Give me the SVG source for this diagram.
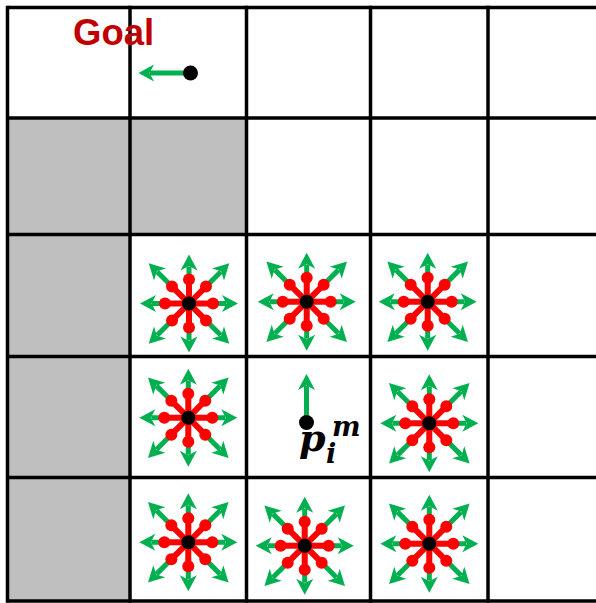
<svg xmlns="http://www.w3.org/2000/svg" xmlns:xlink="http://www.w3.org/1999/xlink" width="596" height="603" viewBox="0 0 596 603">
<style>
.grid{stroke:#000;stroke-width:3.5;fill:none}
.gray{fill:#bfbfbf}
.gsh{stroke:#00b050;stroke-width:5;fill:none}
.ghd{fill:#00b050}
.rsp{stroke:#ff0000;stroke-width:6}
.rdot{fill:#ff0000}
.bdot{fill:#000}
.goal{font-family:"Liberation Sans",Arial,sans-serif;font-weight:bold;font-size:36.5px;fill:#c00000}
.math{font-family:"DejaVu Serif","Liberation Serif",serif;font-weight:bold;font-style:italic;fill:#000}
</style>
<defs>
<g id="arrO">
<line class="gsh" x1="0" y1="0" x2="37" y2="0"/>
<path class="ghd" d="M49,0 L33,-8.5 L37.5,0 L33,8.5 Z"/>
</g>
<g id="arrD">
<line class="gsh" x1="0" y1="0" x2="45" y2="0"/>
<path class="ghd" d="M57,0 L41,-8.5 L45.5,0 L41,8.5 Z"/>
</g>
<g id="spoke">
<line class="rsp" x1="0" y1="0" x2="24" y2="0"/>
<circle class="rdot" cx="24" cy="0" r="6"/>
</g>
<g id="star">
<use xlink:href="#arrO"/>
<use xlink:href="#arrO" transform="rotate(90)"/>
<use xlink:href="#arrO" transform="rotate(180)"/>
<use xlink:href="#arrO" transform="rotate(270)"/>
<use xlink:href="#arrD" transform="rotate(45)"/>
<use xlink:href="#arrD" transform="rotate(135)"/>
<use xlink:href="#arrD" transform="rotate(225)"/>
<use xlink:href="#arrD" transform="rotate(315)"/>
<use xlink:href="#spoke"/>
<use xlink:href="#spoke" transform="rotate(45)"/>
<use xlink:href="#spoke" transform="rotate(90)"/>
<use xlink:href="#spoke" transform="rotate(135)"/>
<use xlink:href="#spoke" transform="rotate(180)"/>
<use xlink:href="#spoke" transform="rotate(225)"/>
<use xlink:href="#spoke" transform="rotate(270)"/>
<use xlink:href="#spoke" transform="rotate(315)"/>
<circle class="bdot" cx="0" cy="0" r="7"/>
</g>
</defs>
<rect width="596" height="603" fill="#fff"/>
<g id="obstacles">
<rect class="gray" x="7.5" y="118" width="239" height="116.5"/>
<rect class="gray" x="7.5" y="234.5" width="122.5" height="367"/>
</g>
<g id="grid">
<line class="grid" x1="7.5" y1="7.5" x2="596" y2="7.5"/>
<line class="grid" x1="7.5" y1="118" x2="596" y2="118"/>
<line class="grid" x1="7.5" y1="234.5" x2="596" y2="234.5"/>
<line class="grid" x1="7.5" y1="356.5" x2="596" y2="356.5"/>
<line class="grid" x1="7.5" y1="477.5" x2="596" y2="477.5"/>
<line class="grid" x1="7.5" y1="601" x2="596" y2="601"/>
<line class="grid" x1="7.5" y1="5.75" x2="7.5" y2="602.75"/>
<line class="grid" x1="130" y1="5.75" x2="130" y2="602.75"/>
<line class="grid" x1="246.5" y1="5.75" x2="246.5" y2="602.75"/>
<line class="grid" x1="370.5" y1="5.75" x2="370.5" y2="602.75"/>
<line class="grid" x1="488" y1="5.75" x2="488" y2="602.75"/>
</g>
<g id="goal-label">
<text class="goal" x="73" y="45">Goal</text>
</g>
<g id="agent-goal">
<line class="gsh" x1="190.5" y1="73" x2="150" y2="73" style="stroke-width:5"/>
<path class="ghd" d="M138.5,73 L154,64.5 L149.5,73 L154,81.5 Z"/>
<circle class="bdot" cx="190.5" cy="73" r="7.5"/>
</g>
<g id="star-r2c1"><use xlink:href="#star" transform="translate(189,303.5)"/></g>
<g id="star-r2c2"><use xlink:href="#star" transform="translate(306.7,301.7)"/></g>
<g id="star-r2c3"><use xlink:href="#star" transform="translate(427.7,301.7)"/></g>
<g id="star-r3c1"><use xlink:href="#star" transform="translate(188.3,417.7)"/></g>
<g id="star-r3c3"><use xlink:href="#star" transform="translate(429.3,423.3)"/></g>
<g id="star-r4c1"><use xlink:href="#star" transform="translate(188.3,542.3)"/></g>
<g id="star-r4c2"><use xlink:href="#star" transform="translate(304.7,545.7)"/></g>
<g id="star-r4c3"><use xlink:href="#star" transform="translate(429.3,543.7)"/></g>
<g id="agent-p">
<line class="gsh" x1="306.5" y1="422.5" x2="306.5" y2="386"/>
<path class="ghd" d="M306.5,374 L298,390 L306.5,385.5 L315,390 Z"/>
<circle class="bdot" cx="306.5" cy="422.5" r="7.5"/>
<text class="math" x="299" y="451" font-size="38">p</text>
<text class="math" x="332" y="436" font-size="27">m</text>
<text class="math" x="326" y="463" font-size="27">i</text>
</g>
</svg>
